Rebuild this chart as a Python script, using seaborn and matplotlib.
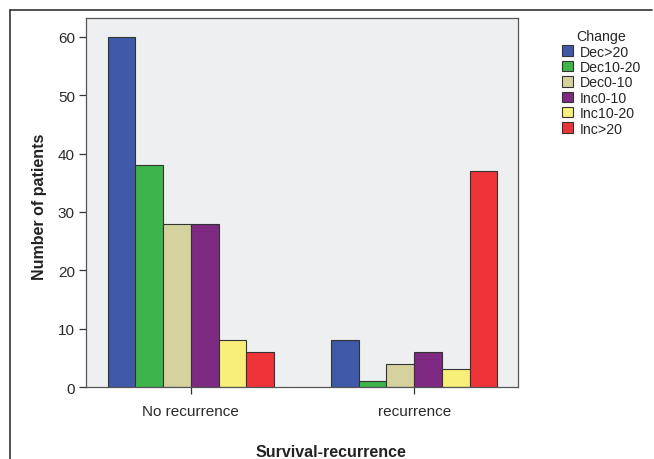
import pandas as pd
import seaborn as sns
import matplotlib.pyplot as plt
from matplotlib.lines import Line2D

groups = ["No recurrence", "recurrence"]
changes = ["Dec>20", "Dec10-20", "Dec0-10", "Inc0-10", "Inc10-20", "Inc>20"]
no_recurrence = [60, 38, 28, 28, 8, 6]
recurrence = [8, 1, 4, 6, 3, 37]
colors = ["#3F59A8", "#3DB54A", "#D6D29E", "#7E2A82", "#F8EF7A", "#EE3339"]

df = pd.DataFrame({
    "group": [groups[0]] * 6 + [groups[1]] * 6,
    "change": changes * 2,
    "count": no_recurrence + recurrence,
})

sns.set_style("white")
plt.rcParams["font.family"] = ["Liberation Sans", "DejaVu Sans"]

fig = plt.figure(figsize=(6.54, 4.6), dpi=100)
ax = fig.add_axes([0.1315, 0.1565, 0.6605, 0.802])

sns.barplot(
    data=df,
    x="group",
    y="count",
    hue="change",
    hue_order=changes,
    palette=colors,
    width=0.745,
    gap=0,
    edgecolor="#333333",
    linewidth=0.8,
    saturation=1,
    ax=ax,
)

ax.set_facecolor("#EEEFF1")
ax.set_xlim(-0.47, 1.465)
ax.set_ylim(0, 63.2)
ax.set_yticks([0, 10, 20, 30, 40, 50, 60])
for s in ax.spines.values():
    s.set_color("#555555")
    s.set_linewidth(0.9)
ax.tick_params(axis="both", which="both", length=5, width=0.9, color="#333333",
               labelsize=11, labelcolor="#2a2a2a", direction="out", left=True, bottom=True,
               pad=3)
ax.tick_params(axis="x", pad=7, labelsize=11)
ax.set_xlabel("")
ax.set_ylabel("")

fig.text(0.06, 0.55, "Number of patients", rotation=90, ha="center", va="center",
         fontsize=11.5, fontweight="bold", color="#222222")
fig.text(0.506, 0.017, "Survival-recurrence", ha="center", va="center",
         fontsize=11.5, fontweight="bold", color="#222222")

leg = ax.legend(title="Change", loc="upper left", bbox_to_anchor=(1.08, 0.997),
                frameon=False, fontsize=10.2, title_fontsize=10.2,
                handlelength=0.75, handleheight=0.75, handletextpad=0.45,
                labelspacing=0.1, borderaxespad=0.3)
for h in leg.legend_handles:
    h.set_edgecolor("#333333")
    h.set_linewidth(0.8)

# outer frame
fig.add_artist(Line2D([10 / 654, 652 / 654], [1 - 11 / 460, 1 - 11 / 460],
                      transform=fig.transFigure, color="#333333", linewidth=1.2))
fig.add_artist(Line2D([10 / 654, 10 / 654], [0, 1 - 11 / 460],
                      transform=fig.transFigure, color="#333333", linewidth=1.2))

fig.savefig("out.png", dpi=100)
